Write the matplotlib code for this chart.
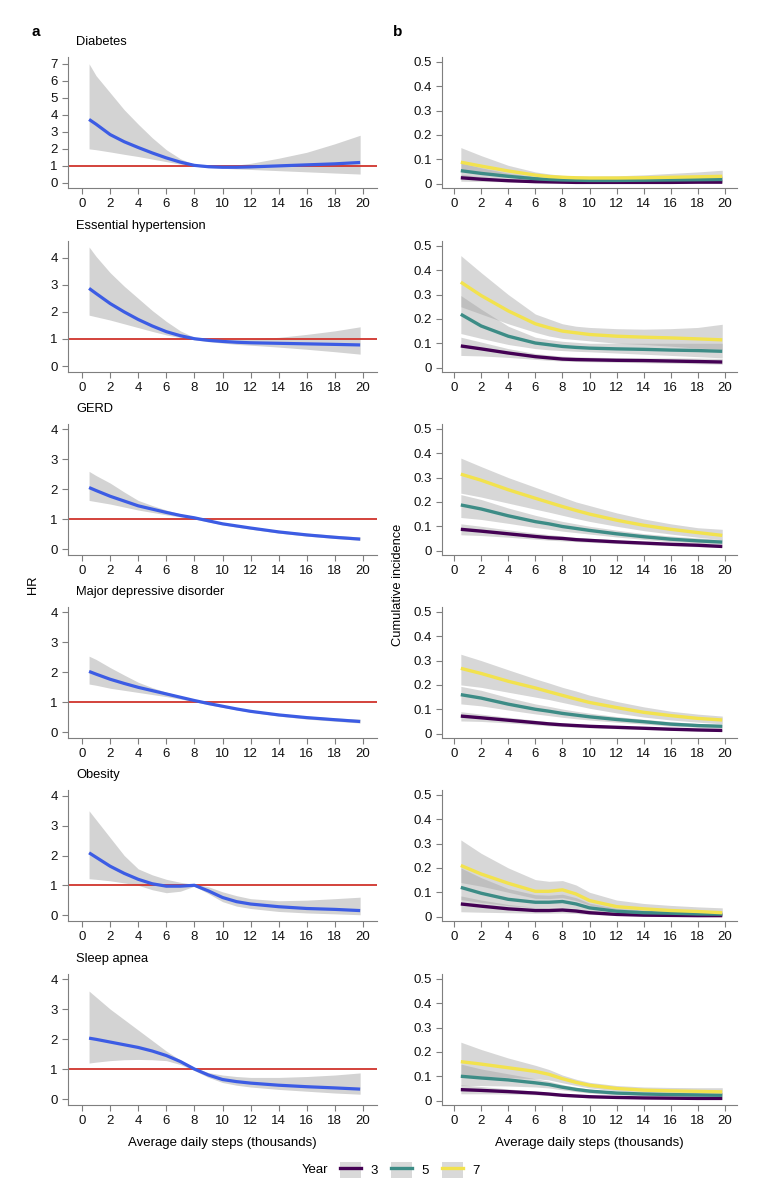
import matplotlib.pyplot as plt
from matplotlib.lines import Line2D
from matplotlib.patches import Patch

plt.rcParams['font.family'] = ['Liberation Sans', 'DejaVu Sans']

# x grids (thousand steps)
steps_hr = [0.5, 1, 2, 3, 4, 5, 6, 7, 8, 9, 10, 11, 12, 14, 16, 18, 19.8]
steps_ci = [0.5, 2, 4, 6, 7, 8, 9, 10, 12, 14, 16, 18, 19.8]

titles = ["Diabetes", "Essential hypertension", "GERD",
          "Major depressive disorder", "Obesity", "Sleep apnea"]
years = [3, 5, 7]

# ---- panel a: hazard ratios ----
diab_hr = [3.73, 3.45, 2.84, 2.42, 2.08, 1.76, 1.47, 1.22, 1.03, 0.95, 0.92, 0.92, 0.94, 1.0, 1.06, 1.12, 1.2]
diab_hi = [7.0, 6.3, 5.3, 4.3, 3.45, 2.65, 1.95, 1.42, 1.08, 1.0, 0.98, 1.05, 1.15, 1.45, 1.8, 2.3, 2.8]
diab_lo = [2.0, 1.95, 1.82, 1.68, 1.55, 1.4, 1.25, 1.1, 0.98, 0.9, 0.86, 0.82, 0.79, 0.72, 0.65, 0.58, 0.52]

hyp_hr = [2.87, 2.68, 2.31, 2.0, 1.72, 1.48, 1.27, 1.12, 1.01, 0.95, 0.91, 0.88, 0.86, 0.84, 0.82, 0.8, 0.78]
hyp_hi = [4.4, 4.05, 3.45, 2.95, 2.5, 2.05, 1.65, 1.3, 1.06, 1.0, 0.98, 0.99, 1.0, 1.06, 1.17, 1.3, 1.45]
hyp_lo = [1.88, 1.82, 1.7, 1.56, 1.42, 1.28, 1.15, 1.05, 0.97, 0.9, 0.85, 0.8, 0.77, 0.7, 0.62, 0.53, 0.44]

gerd_hr = [2.05, 1.95, 1.76, 1.6, 1.44, 1.33, 1.22, 1.12, 1.04, 0.94, 0.84, 0.77, 0.7, 0.57, 0.47, 0.39, 0.33]
gerd_hi = [2.59, 2.45, 2.2, 1.9, 1.62, 1.45, 1.3, 1.17, 1.07, 0.97, 0.87, 0.8, 0.74, 0.62, 0.53, 0.46, 0.4]
gerd_lo = [1.62, 1.58, 1.5, 1.4, 1.3, 1.22, 1.14, 1.07, 1.0, 0.9, 0.81, 0.73, 0.66, 0.53, 0.43, 0.35, 0.29]

mdd_hr = [2.02, 1.93, 1.76, 1.62, 1.49, 1.38, 1.27, 1.16, 1.05, 0.95, 0.86, 0.77, 0.69, 0.57, 0.48, 0.41, 0.35]
mdd_hi = [2.53, 2.42, 2.15, 1.9, 1.66, 1.48, 1.33, 1.2, 1.08, 0.98, 0.89, 0.8, 0.73, 0.62, 0.53, 0.47, 0.43]
mdd_lo = [1.6, 1.56, 1.46, 1.39, 1.32, 1.25, 1.18, 1.1, 1.01, 0.91, 0.82, 0.74, 0.66, 0.53, 0.43, 0.36, 0.3]

obes_hr = [2.09, 1.94, 1.64, 1.4, 1.2, 1.05, 0.97, 0.97, 1.0, 0.81, 0.59, 0.45, 0.37, 0.28, 0.22, 0.19, 0.15]
obes_hi = [3.5, 3.2, 2.6, 2.0, 1.55, 1.35, 1.2, 1.1, 1.03, 0.95, 0.78, 0.65, 0.55, 0.48, 0.5, 0.55, 0.6]
obes_lo = [1.22, 1.2, 1.15, 1.08, 1.0, 0.85, 0.75, 0.8, 0.97, 0.72, 0.45, 0.3, 0.22, 0.12, 0.07, 0.04, 0.01]

sleep_hr = [2.03, 1.99, 1.9, 1.81, 1.72, 1.6, 1.45, 1.25, 1.0, 0.8, 0.65, 0.58, 0.53, 0.46, 0.41, 0.37, 0.33]
sleep_hi = [3.6, 3.4, 3.0, 2.65, 2.3, 1.95, 1.6, 1.3, 1.05, 0.88, 0.8, 0.75, 0.72, 0.72, 0.75, 0.8, 0.87]
sleep_lo = [1.2, 1.23, 1.28, 1.31, 1.32, 1.31, 1.28, 1.15, 0.95, 0.72, 0.55, 0.46, 0.4, 0.32, 0.26, 0.2, 0.16]

# ---- panel b: cumulative incidence by year ----
diab_y3 = [0.024, 0.018, 0.012, 0.008, 0.007, 0.006, 0.005, 0.005, 0.005, 0.005, 0.005, 0.006, 0.006]
diab_y3_hi = [0.038, 0.028, 0.018, 0.011, 0.009, 0.008, 0.007, 0.007, 0.007, 0.008, 0.009, 0.010, 0.011]
diab_y3_lo = [0.010, 0.009, 0.007, 0.005, 0.004, 0.004, 0.003, 0.003, 0.003, 0.003, 0.002, 0.002, 0.002]
diab_y5 = [0.053, 0.042, 0.030, 0.020, 0.017, 0.015, 0.014, 0.013, 0.013, 0.014, 0.015, 0.016, 0.017]
diab_y5_hi = [0.085, 0.065, 0.043, 0.028, 0.023, 0.020, 0.019, 0.018, 0.019, 0.021, 0.024, 0.027, 0.031]
diab_y5_lo = [0.030, 0.026, 0.021, 0.015, 0.013, 0.011, 0.010, 0.010, 0.009, 0.009, 0.008, 0.007, 0.006]
diab_y7 = [0.088, 0.072, 0.052, 0.035, 0.029, 0.026, 0.024, 0.023, 0.023, 0.024, 0.026, 0.028, 0.030]
diab_y7_hi = [0.148, 0.115, 0.075, 0.048, 0.040, 0.034, 0.032, 0.031, 0.032, 0.036, 0.042, 0.048, 0.055]
diab_y7_lo = [0.052, 0.045, 0.036, 0.026, 0.022, 0.020, 0.018, 0.017, 0.016, 0.015, 0.014, 0.012, 0.010]

hyp_y3 = [0.089, 0.077, 0.060, 0.045, 0.040, 0.035, 0.033, 0.032, 0.030, 0.029, 0.027, 0.025, 0.023]
hyp_y3_hi = [0.125, 0.105, 0.078, 0.058, 0.052, 0.047, 0.045, 0.043, 0.041, 0.040, 0.040, 0.039, 0.038]
hyp_y3_lo = [0.050, 0.048, 0.042, 0.034, 0.030, 0.027, 0.025, 0.024, 0.022, 0.020, 0.018, 0.016, 0.014]
hyp_y5 = [0.219, 0.171, 0.129, 0.101, 0.094, 0.087, 0.083, 0.080, 0.077, 0.075, 0.072, 0.070, 0.067]
hyp_y5_hi = [0.296, 0.240, 0.170, 0.125, 0.115, 0.108, 0.104, 0.100, 0.100, 0.100, 0.100, 0.100, 0.100]
hyp_y5_lo = [0.140, 0.120, 0.095, 0.078, 0.073, 0.070, 0.067, 0.065, 0.060, 0.055, 0.050, 0.045, 0.040]
hyp_y7 = [0.351, 0.296, 0.233, 0.180, 0.164, 0.150, 0.143, 0.136, 0.129, 0.125, 0.122, 0.118, 0.114]
hyp_y7_hi = [0.460, 0.390, 0.300, 0.220, 0.200, 0.180, 0.170, 0.165, 0.160, 0.158, 0.160, 0.165, 0.178]
hyp_y7_lo = [0.250, 0.220, 0.180, 0.145, 0.130, 0.120, 0.115, 0.110, 0.100, 0.095, 0.088, 0.080, 0.075]

gerd_y3 = [0.0875, 0.080, 0.069, 0.058, 0.053, 0.050, 0.045, 0.042, 0.036, 0.031, 0.026, 0.022, 0.017]
gerd_y3_hi = [0.110, 0.100, 0.085, 0.072, 0.066, 0.060, 0.055, 0.051, 0.044, 0.037, 0.032, 0.027, 0.023]
gerd_y3_lo = [0.065, 0.062, 0.055, 0.047, 0.043, 0.040, 0.037, 0.034, 0.029, 0.024, 0.020, 0.016, 0.013]
gerd_y5 = [0.1875, 0.171, 0.143, 0.119, 0.110, 0.099, 0.091, 0.083, 0.069, 0.057, 0.047, 0.040, 0.035]
gerd_y5_hi = [0.230, 0.210, 0.175, 0.145, 0.132, 0.120, 0.110, 0.100, 0.084, 0.070, 0.060, 0.052, 0.046]
gerd_y5_lo = [0.136, 0.128, 0.112, 0.095, 0.088, 0.080, 0.074, 0.068, 0.056, 0.046, 0.037, 0.030, 0.026]
gerd_y7 = [0.314, 0.289, 0.250, 0.215, 0.198, 0.181, 0.165, 0.150, 0.125, 0.104, 0.0875, 0.074, 0.0625]
gerd_y7_hi = [0.380, 0.345, 0.300, 0.260, 0.240, 0.220, 0.200, 0.185, 0.155, 0.130, 0.110, 0.094, 0.0875]
gerd_y7_lo = [0.236, 0.220, 0.195, 0.170, 0.158, 0.145, 0.132, 0.120, 0.100, 0.082, 0.068, 0.055, 0.045]

mdd_y3 = [0.072, 0.065, 0.055, 0.045, 0.040, 0.036, 0.033, 0.030, 0.026, 0.022, 0.018, 0.015, 0.013]
mdd_y3_hi = [0.090, 0.080, 0.067, 0.055, 0.049, 0.044, 0.040, 0.037, 0.032, 0.027, 0.023, 0.019, 0.017]
mdd_y3_lo = [0.052, 0.050, 0.044, 0.036, 0.032, 0.029, 0.026, 0.024, 0.020, 0.017, 0.014, 0.011, 0.009]
mdd_y5 = [0.160, 0.146, 0.121, 0.100, 0.092, 0.083, 0.076, 0.069, 0.058, 0.049, 0.039, 0.033, 0.030]
mdd_y5_hi = [0.194, 0.178, 0.148, 0.122, 0.112, 0.101, 0.092, 0.084, 0.070, 0.059, 0.049, 0.042, 0.038]
mdd_y5_lo = [0.122, 0.114, 0.097, 0.081, 0.074, 0.067, 0.061, 0.056, 0.047, 0.039, 0.031, 0.026, 0.023]
mdd_y7 = [0.268, 0.247, 0.215, 0.1875, 0.172, 0.157, 0.142, 0.128, 0.107, 0.0875, 0.074, 0.0625, 0.056]
mdd_y7_hi = [0.326, 0.300, 0.262, 0.225, 0.208, 0.190, 0.175, 0.158, 0.132, 0.110, 0.092, 0.080, 0.072]
mdd_y7_lo = [0.200, 0.190, 0.170, 0.150, 0.140, 0.128, 0.116, 0.104, 0.085, 0.068, 0.056, 0.047, 0.040]

obes_y3 = [0.052, 0.043, 0.032, 0.025, 0.025, 0.027, 0.023, 0.016, 0.009, 0.006, 0.005, 0.004, 0.004]
obes_y3_hi = [0.085, 0.068, 0.050, 0.038, 0.037, 0.040, 0.034, 0.024, 0.014, 0.010, 0.008, 0.007, 0.006]
obes_y3_lo = [0.020, 0.018, 0.016, 0.014, 0.014, 0.015, 0.013, 0.009, 0.005, 0.003, 0.002, 0.002, 0.001]
obes_y5 = [0.120, 0.096, 0.071, 0.059, 0.059, 0.062, 0.052, 0.036, 0.022, 0.016, 0.014, 0.011, 0.010]
obes_y5_hi = [0.200, 0.160, 0.115, 0.090, 0.088, 0.092, 0.078, 0.055, 0.034, 0.026, 0.022, 0.019, 0.017]
obes_y5_lo = [0.070, 0.058, 0.045, 0.038, 0.038, 0.040, 0.034, 0.023, 0.013, 0.009, 0.007, 0.005, 0.004]
obes_y7 = [0.210, 0.175, 0.137, 0.104, 0.104, 0.110, 0.093, 0.066, 0.041, 0.032, 0.025, 0.021, 0.016]
obes_y7_hi = [0.315, 0.260, 0.200, 0.152, 0.145, 0.148, 0.130, 0.100, 0.068, 0.054, 0.046, 0.040, 0.036]
obes_y7_lo = [0.140, 0.125, 0.100, 0.075, 0.074, 0.078, 0.066, 0.047, 0.027, 0.020, 0.015, 0.011, 0.008]

sleep_y3 = [0.045, 0.042, 0.037, 0.031, 0.027, 0.022, 0.019, 0.016, 0.013, 0.011, 0.010, 0.009, 0.009]
sleep_y3_hi = [0.065, 0.058, 0.048, 0.039, 0.034, 0.028, 0.024, 0.020, 0.016, 0.014, 0.013, 0.013, 0.013]
sleep_y3_lo = [0.028, 0.028, 0.027, 0.024, 0.021, 0.017, 0.014, 0.012, 0.010, 0.008, 0.007, 0.006, 0.005]
sleep_y5 = [0.100, 0.093, 0.085, 0.073, 0.066, 0.055, 0.046, 0.039, 0.031, 0.027, 0.025, 0.023, 0.022]
sleep_y5_hi = [0.150, 0.130, 0.110, 0.090, 0.080, 0.066, 0.055, 0.047, 0.038, 0.034, 0.033, 0.033, 0.033]
sleep_y5_lo = [0.062, 0.062, 0.060, 0.056, 0.052, 0.044, 0.037, 0.031, 0.024, 0.020, 0.017, 0.015, 0.013]
sleep_y7 = [0.160, 0.150, 0.135, 0.120, 0.108, 0.090, 0.075, 0.063, 0.050, 0.043, 0.040, 0.038, 0.036]
sleep_y7_hi = [0.240, 0.210, 0.175, 0.145, 0.128, 0.105, 0.088, 0.075, 0.062, 0.056, 0.054, 0.053, 0.053]
sleep_y7_lo = [0.100, 0.100, 0.095, 0.090, 0.085, 0.073, 0.062, 0.052, 0.040, 0.033, 0.028, 0.025, 0.022]

hr_data = [(diab_hr, diab_lo, diab_hi), (hyp_hr, hyp_lo, hyp_hi), (gerd_hr, gerd_lo, gerd_hi),
           (mdd_hr, mdd_lo, mdd_hi), (obes_hr, obes_lo, obes_hi), (sleep_hr, sleep_lo, sleep_hi)]
ci_data = [
    [(diab_y3, diab_y3_lo, diab_y3_hi), (diab_y5, diab_y5_lo, diab_y5_hi), (diab_y7, diab_y7_lo, diab_y7_hi)],
    [(hyp_y3, hyp_y3_lo, hyp_y3_hi), (hyp_y5, hyp_y5_lo, hyp_y5_hi), (hyp_y7, hyp_y7_lo, hyp_y7_hi)],
    [(gerd_y3, gerd_y3_lo, gerd_y3_hi), (gerd_y5, gerd_y5_lo, gerd_y5_hi), (gerd_y7, gerd_y7_lo, gerd_y7_hi)],
    [(mdd_y3, mdd_y3_lo, mdd_y3_hi), (mdd_y5, mdd_y5_lo, mdd_y5_hi), (mdd_y7, mdd_y7_lo, mdd_y7_hi)],
    [(obes_y3, obes_y3_lo, obes_y3_hi), (obes_y5, obes_y5_lo, obes_y5_hi), (obes_y7, obes_y7_lo, obes_y7_hi)],
    [(sleep_y3, sleep_y3_lo, sleep_y3_hi), (sleep_y5, sleep_y5_lo, sleep_y5_hi), (sleep_y7, sleep_y7_lo, sleep_y7_hi)],
]
hr_ylims = [(-0.3, 7.4), (-0.22, 4.62), (-0.2, 4.17), (-0.2, 4.17), (-0.2, 4.2), (-0.2, 4.17)]
hr_yticks = [list(range(0, 8)), [0, 1, 2, 3, 4], [0, 1, 2, 3, 4], [0, 1, 2, 3, 4], [0, 1, 2, 3, 4], [0, 1, 2, 3, 4]]
ci_yticks = [0, 0.1, 0.2, 0.3, 0.4, 0.5]
ci_yticklabels = ["0", "0.1", "0.2", "0.3", "0.4", "0.5"]
xticks = list(range(0, 21, 2))

W, H = 769, 1200
year_colors = ["#440154", "#3d8c86", "#f2e24e"]
BLUE = "#3c5ce4"
RED = "#d0342c"
SPINE = "#7f7f7f"

fig = plt.figure(figsize=(W / 100, H / 100), dpi=100)

tops = [57, 241, 424, 607, 790, 974]
ph = 131


def style(ax):
    for s in ["top", "right"]:
        ax.spines[s].set_visible(False)
    for s in ["left", "bottom"]:
        ax.spines[s].set_color(SPINE)
        ax.spines[s].set_linewidth(0.8)
    ax.tick_params(colors=SPINE, labelcolor="#111111", labelsize=9.5, length=4, width=0.8)


for i, top in enumerate(tops):
    y0 = 1 - (top + ph) / H
    # left: HR
    axl = fig.add_axes([68 / W, y0, (377 - 68) / W, ph / H])
    est, lo, hi = hr_data[i]
    axl.fill_between(steps_hr, lo, hi, color="#d3d3d3", lw=0, zorder=1)
    axl.axhline(1, color=RED, lw=1.3, zorder=2)
    axl.plot(steps_hr, est, color=BLUE, lw=2.3, zorder=3, solid_capstyle="butt")
    axl.set_xlim(-1, 21)
    axl.set_ylim(*hr_ylims[i])
    axl.set_yticks(hr_yticks[i])
    axl.set_xticks(xticks)
    style(axl)
    fig.text(76 / W, 1 - (top - 15) / H, titles[i], fontsize=9.3, va="center", ha="left")

    # right: cumulative incidence
    axr = fig.add_axes([442 / W, y0, (737 - 442) / W, ph / H])
    for est, lo, hi in ci_data[i]:
        axr.fill_between(steps_ci, lo, hi, color="#9c9c9c", alpha=0.4, lw=0, zorder=1)
    for (est, lo, hi), c in zip(ci_data[i], year_colors):
        axr.plot(steps_ci, est, color=c, lw=2.4, zorder=3, solid_capstyle="butt")
    axr.set_xlim(-0.89, 20.89)
    axr.set_ylim(-0.018, 0.52)
    axr.set_yticks(ci_yticks)
    axr.set_yticklabels(ci_yticklabels)
    axr.set_xticks(xticks)
    style(axr)

    if i == len(tops) - 1:
        axl.set_xlabel("Average daily steps (thousands)", fontsize=9.5, labelpad=7)
        axr.set_xlabel("Average daily steps (thousands)", fontsize=9.5, labelpad=7)

fig.text(36 / W, 1 - 32 / H, "a", fontsize=11, fontweight="bold", ha="center", va="center")
fig.text(398 / W, 1 - 32 / H, "b", fontsize=11, fontweight="bold", ha="center", va="center")
fig.text(33 / W, 1 - 585 / H, "HR", fontsize=9.3, rotation=90, ha="center", va="center")
fig.text(398 / W, 1 - 585 / H, "Cumulative incidence", fontsize=9.3, rotation=90, ha="center", va="center")

# legend
handles = [(Patch(facecolor="#d9d9d9", edgecolor="none"), Line2D([], [], color=c, lw=2.4)) for c in year_colors]
fig.text(302 / W, 1 - 1170 / H, "Year", fontsize=9.5, ha="left", va="center")
fig.legend(handles, [str(y) for y in years], ncol=3, frameon=False, loc="center left",
           bbox_to_anchor=(328 / W, 1 - 1170 / H), fontsize=9.5, handlelength=1.6, handleheight=1.5,
           columnspacing=1.0, handletextpad=0.7)

fig.savefig("out.png", dpi=100)
